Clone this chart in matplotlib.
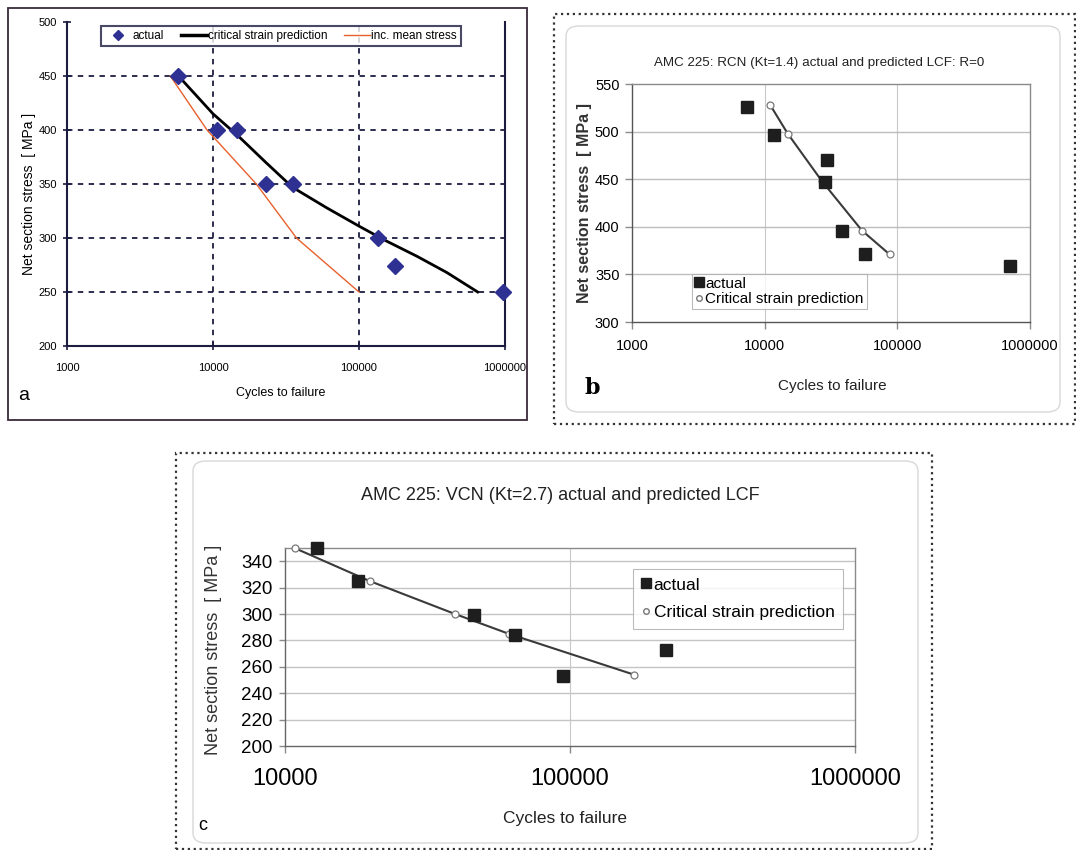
import matplotlib
matplotlib.use("Agg")
import matplotlib.pyplot as plt
from matplotlib.patches import Rectangle, FancyBboxPatch
from matplotlib.lines import Line2D

W, H = 1076, 850

NARROW = ["DejaVu Sans Condensed", "Liberation Sans Narrow", "Liberation Sans", "DejaVu Sans"]
SANS = ["Liberation Sans", "DejaVu Sans"]

# ---- panel a data ----
a_actual_x = [5800, 10700, 14600, 22900, 35300, 134000, 177000, 968000]
a_actual_y = [450, 400, 400, 350, 350, 300, 274, 250]
a_crit_x = [5800, 10000, 15000, 23000, 35000, 60000, 100000, 150000, 250000, 400000, 650000]
a_crit_y = [450, 415, 394, 370, 347, 328, 311, 298, 283, 268, 250]
a_mean_x = [5100, 9100, 19800, 37300, 100000]
a_mean_y = [450, 400, 350, 300, 250]
a_xticks = [1000, 10000, 100000, 1000000]
a_xlabels = ["1000", "10000", "100000", "1000000"]
a_yticks = [200, 250, 300, 350, 400, 450, 500]

# ---- panel b data ----
b_actual_x = [7360, 11700, 29500, 28700, 38500, 57000, 711000]
b_actual_y = [526, 496, 470, 447, 396, 371, 359]
b_pred_x = [11000, 14900, 27000, 54200, 87500]
b_pred_y = [528, 498, 448, 396, 371]
b_xticks = [1000, 10000, 100000, 1000000]
b_xlabels = ["1000", "10000", "100000", "1000000"]
b_yticks = [300, 350, 400, 450, 500, 550]

# ---- panel c data ----
c_actual_x = [12900, 18100, 46100, 63900, 94200, 218000]
c_actual_y = [350, 325, 299, 284, 253, 273]
c_pred_x = [10800, 19800, 39500, 61000, 168000]
c_pred_y = [350, 325, 300, 285, 254]
c_xticks = [10000, 100000, 1000000]
c_xlabels = ["10000", "100000", "1000000"]
c_yticks = [200, 220, 240, 260, 280, 300, 320, 340]


def rect(x0, y0, x1, y1):
    return [x0 / W, 1 - y1 / H, (x1 - x0) / W, (y1 - y0) / H]


def fx(x):
    return x / W


def fy(y):
    return 1 - y / H


fig = plt.figure(figsize=(W / 100, H / 100), dpi=100)
fig.patch.set_facecolor("white")

# frames
fig.patches.append(Rectangle((fx(8), fy(420)), (527 - 8) / W, (420 - 8) / H,
                             transform=fig.transFigure, fill=False,
                             edgecolor="#3a2a3a", lw=1.3))
fig.patches.append(Rectangle((fx(554), fy(424)), (1075 - 554) / W, (424 - 14) / H,
                             transform=fig.transFigure, fill=False,
                             edgecolor="#333333", lw=1.6, ls=":"))
fig.patches.append(FancyBboxPatch((fx(566), fy(412)), (1060 - 566) / W, (412 - 26) / H,
                                  boxstyle="round,pad=0,rounding_size=0.012",
                                  transform=fig.transFigure, fill=False,
                                  edgecolor="#d8d8d8", lw=1.0))
fig.patches.append(Rectangle((fx(176), fy(849)), (932 - 176) / W, (849 - 453) / H,
                             transform=fig.transFigure, fill=False,
                             edgecolor="#333333", lw=1.6, ls=":"))
fig.patches.append(FancyBboxPatch((fx(193), fy(843)), (918 - 193) / W, (843 - 461) / H,
                                  boxstyle="round,pad=0,rounding_size=0.012",
                                  transform=fig.transFigure, fill=False,
                                  edgecolor="#d8d8d8", lw=1.0))

# ================= panel a =================
navy = "#1c1c40"
ax = fig.add_axes(rect(67, 22, 505, 346))
ax.set_xscale("log")
ax.set_xlim(1000, 1000000)
ax.set_ylim(200, 500)
ax.minorticks_off()
for v in [10000, 100000]:
    ax.axvline(v, color=navy, lw=1.3, ls=(0, (3, 3)), zorder=1)
for v in [250, 300, 350, 400, 450]:
    ax.axhline(v, color=navy, lw=1.3, ls=(0, (3, 3)), zorder=1)
ax.plot(a_mean_x, a_mean_y, color="#e8602c", lw=1.0, zorder=2)
ax.plot(a_crit_x, a_crit_y, color="black", lw=2.0, zorder=3)
ax.plot(a_actual_x, a_actual_y, ls="none", marker="D", ms=8, color="#2e3192", zorder=4,
        clip_on=False)
ax.set_xticks(a_xticks)
ax.set_xticklabels(a_xlabels)
ax.set_yticks(a_yticks)
ax.tick_params(direction="inout", length=6, width=1.2, color=navy, labelsize=8, pad=4)
ax.tick_params(axis="x", pad=9)
for lab in ax.get_xticklabels() + ax.get_yticklabels():
    lab.set_family(NARROW)
ax.spines["top"].set_visible(False)
for s in ["left", "bottom", "right"]:
    ax.spines[s].set_color(navy)
    ax.spines[s].set_linewidth(1.5)

handles = [
    Line2D([], [], ls="none", marker="D", ms=5, color="#2e3192"),
    Line2D([], [], color="black", lw=2.5),
    Line2D([], [], color="#e8602c", lw=1.0),
]
leg = fig.legend(handles, ["actual", "critical strain prediction", "inc. mean stress"],
                 ncol=3, loc="center", bbox_to_anchor=(fx(281), fy(36)),
                 frameon=True, fancybox=False, handlelength=2.2, columnspacing=1.4,
                 handletextpad=0.1, borderpad=0.35,
                 prop={"family": NARROW, "size": 8.5})
leg.get_frame().set_edgecolor(navy)
leg.get_frame().set_linewidth(1.5)

fig.text(fx(29), fy(194), "Net section stress  [ MPa ]", rotation=90, ha="center",
         va="center", family=NARROW, fontsize=10)
fig.text(fx(281), fy(393), "Cycles to failure", ha="center", va="center",
         family=NARROW, fontsize=9)
fig.text(fx(24), fy(396), "a", ha="center", va="center", family=SANS, fontsize=14)

# ================= panel b =================
gray = "#8a8a8a"
bx = fig.add_axes(rect(632, 84, 1030, 322))
bx.set_xscale("log")
bx.set_xlim(1000, 1000000)
bx.set_ylim(300, 550)
bx.minorticks_off()
for v in [10000, 100000]:
    bx.axvline(v, color="#c8c8c8", lw=0.8, zorder=1)
for v in [350, 400, 450, 500]:
    bx.axhline(v, color="#bdbdbd", lw=1.0, zorder=1)
bx.plot(b_pred_x, b_pred_y, color="#3a3a3a", lw=1.5, zorder=2)
bx.plot(b_pred_x, b_pred_y, ls="none", marker="o", ms=5, mfc="white", mec="#777777",
        mew=0.9, zorder=3)
bx.plot(b_actual_x, b_actual_y, ls="none", marker="s", ms=8, color="#1e1e1e", zorder=4)
bx.set_xticks(b_xticks)
bx.set_xticklabels(b_xlabels)
bx.set_yticks(b_yticks)
bx.tick_params(direction="out", length=5, width=1.0, color=gray, labelsize=10.5, pad=4)
bx.tick_params(axis="x", pad=7)
for lab in bx.get_xticklabels() + bx.get_yticklabels():
    lab.set_family(SANS)
for s in bx.spines.values():
    s.set_color(gray)
    s.set_linewidth(1.0)
bx.spines["left"].set_color("#555555")
bx.spines["bottom"].set_color("#555555")

bh = [
    Line2D([], [], ls="none", marker="s", ms=7, color="#1e1e1e"),
    Line2D([], [], ls="none", marker="o", ms=4, mfc="white", mec="#777777"),
]
lb = bx.legend(bh, ["actual", "Critical strain prediction"], loc="upper left",
               bbox_to_anchor=((684 - 632) / 398, (322 - 266) / 238),
               frameon=True, fancybox=False, handlelength=0.5, handletextpad=0.2,
               borderpad=0.2, labelspacing=0.1,
               prop={"family": NARROW, "size": 11})
lb.get_frame().set_edgecolor("#aaaaaa")
lb.get_frame().set_linewidth(0.8)

fig.text(fx(819), fy(63), "AMC 225: RCN (Kt=1.4) actual and predicted LCF: R=0",
         ha="center", va="center", family=NARROW, fontsize=9.6, color="#222222")
fig.text(fx(584), fy(203), "Net section stress  [ MPa ]", rotation=90, ha="center",
         va="center", family=SANS, fontsize=11.5, fontweight="bold", color="#333333")
fig.text(fx(832), fy(386), "Cycles to failure", ha="center", va="center",
         family=NARROW, fontsize=11, color="#222222")
fig.text(fx(592), fy(388), "b", ha="center", va="center", family="DejaVu Serif",
         fontsize=16, fontweight="bold")

# ================= panel c =================
cx = fig.add_axes(rect(285, 548, 855, 746))
cx.set_xscale("log")
cx.set_xlim(10000, 1000000)
cx.set_ylim(200, 350)
cx.minorticks_off()
cx.axvline(100000, color="#c8c8c8", lw=0.8, zorder=1)
for v in [220, 240, 260, 280, 300, 320, 340]:
    cx.axhline(v, color="#c4c4c4", lw=1.0, zorder=1)
cx.plot(c_pred_x, c_pred_y, color="#3a3a3a", lw=1.5, zorder=2)
cx.plot(c_pred_x, c_pred_y, ls="none", marker="o", ms=5, mfc="white", mec="#777777",
        mew=0.9, zorder=3, clip_on=False)
cx.plot(c_actual_x, c_actual_y, ls="none", marker="s", ms=8, color="#1e1e1e", zorder=4,
        clip_on=False)
cx.set_xticks(c_xticks)
cx.set_xticklabels(c_xlabels)
cx.set_yticks(c_yticks)
cx.tick_params(axis="x", direction="out", length=5, width=1.0, color=gray,
               labelsize=17, pad=11)
cx.tick_params(axis="y", direction="out", length=4, width=1.0, color=gray,
               labelsize=13.5, pad=5)
for lab in cx.get_xticklabels() + cx.get_yticklabels():
    lab.set_family(SANS)
for s in cx.spines.values():
    s.set_color(gray)
    s.set_linewidth(1.0)
cx.spines["left"].set_color("#666666")
cx.spines["bottom"].set_color("#666666")

ch = [
    Line2D([], [], ls="none", marker="s", ms=7, color="#1e1e1e"),
    Line2D([], [], ls="none", marker="o", ms=4, mfc="white", mec="#777777"),
]
lc = cx.legend(ch, ["actual", "Critical strain prediction"], loc="upper left",
               bbox_to_anchor=((624 - 285) / 570, (746 - 560) / 198),
               frameon=True, fancybox=False, handlelength=0.5, handletextpad=0.2,
               borderpad=0.5, labelspacing=0.7,
               prop={"family": NARROW, "size": 12.5})
lc.get_frame().set_edgecolor("#aaaaaa")
lc.get_frame().set_linewidth(0.8)

fig.text(fx(560), fy(496), "AMC 225: VCN (Kt=2.7) actual and predicted LCF",
         ha="center", va="center", family=NARROW, fontsize=13, color="#222222")
fig.text(fx(214), fy(650), "Net section stress  [ MPa ]", rotation=90, ha="center",
         va="center", family=SANS, fontsize=13, color="#333333")
fig.text(fx(565), fy(818), "Cycles to failure", ha="center", va="center",
         family=NARROW, fontsize=12.5, color="#222222")
fig.text(fx(203), fy(826), "c", ha="center", va="center", family=SANS, fontsize=13)

fig.savefig("out.png", dpi=100)
